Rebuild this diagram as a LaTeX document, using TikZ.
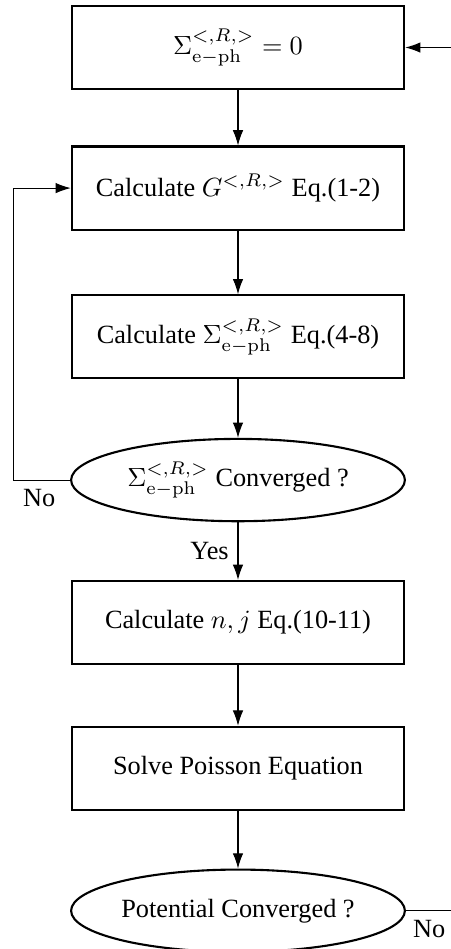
\documentclass[tikz,border=0pt]{standalone}
\usepackage{amsmath}
\usepackage[no-math]{fontspec}
\setmainfont{Liberation Serif}
\usepackage{tikz}
\usetikzlibrary{shapes,arrows,arrows.meta,positioning,calc}

\tikzset{
    block/.style={draw, thick, rectangle, minimum width=4.44cm, minimum height=1.11cm},
    decision/.style={draw, thick, ellipse, minimum width=4.46cm, minimum height=1.10cm, inner sep=0pt},
    flow/.style={draw, -{Latex[length=5.8pt,width=4pt]}}
}

\begin{document}
\begin{tikzpicture}
    \useasboundingbox (0,0) rectangle (6.025,-12.68);

    \node[block] (init) at (3.18,-0.635) {$\Sigma^{<,R,>}_{\mathrm{e-ph}}=0$};
    \node[block, below=0.74cm of init] (green) {Calculate $G^{<,R,>}$ Eq.(1-2)};
    \node[block, below=0.85cm of green] (self) {Calculate $\Sigma^{<,R,>}_{\mathrm{e-ph}}$ Eq.(4-8)};
    \node[decision, below=0.78cm of self] (conv) {$\Sigma^{<,R,>}_{\mathrm{e-ph}}$ Converged ?};
    \node[block, below=0.77cm of conv] (dens) {Calculate $n,j$ Eq.(10-11)};
    \node[block, below=0.81cm of dens] (poisson) {Solve Poisson Equation};
    \node[decision, below=0.77cm of poisson] (pconv) {Potential Converged ?};

    \coordinate[right=0.63cm of init.east] (entry);
    \coordinate[left=0.75cm of conv.west] (turn);
    \coordinate[right=0.62cm of pconv.east] (exit);

    \draw[flow] (entry) -- (init);
    \draw[flow] (init) -- (green);
    \draw[flow] (green) -- (self);
    \draw[flow] (self) -- (conv);
    \draw[flow] (conv) -- (dens) node[midway, left] (yes) {Yes};
    \draw[flow] (dens) -- (poisson);
    \draw[flow] (poisson) -- (pconv);

    % loop back when not converged
    \draw[flow] (conv.west) -- (turn) node[below right] (noa) {No} |- (green.west);
    \draw (pconv.east) -- (exit) node[midway, below] (nob) {No};
\end{tikzpicture}
\end{document}
